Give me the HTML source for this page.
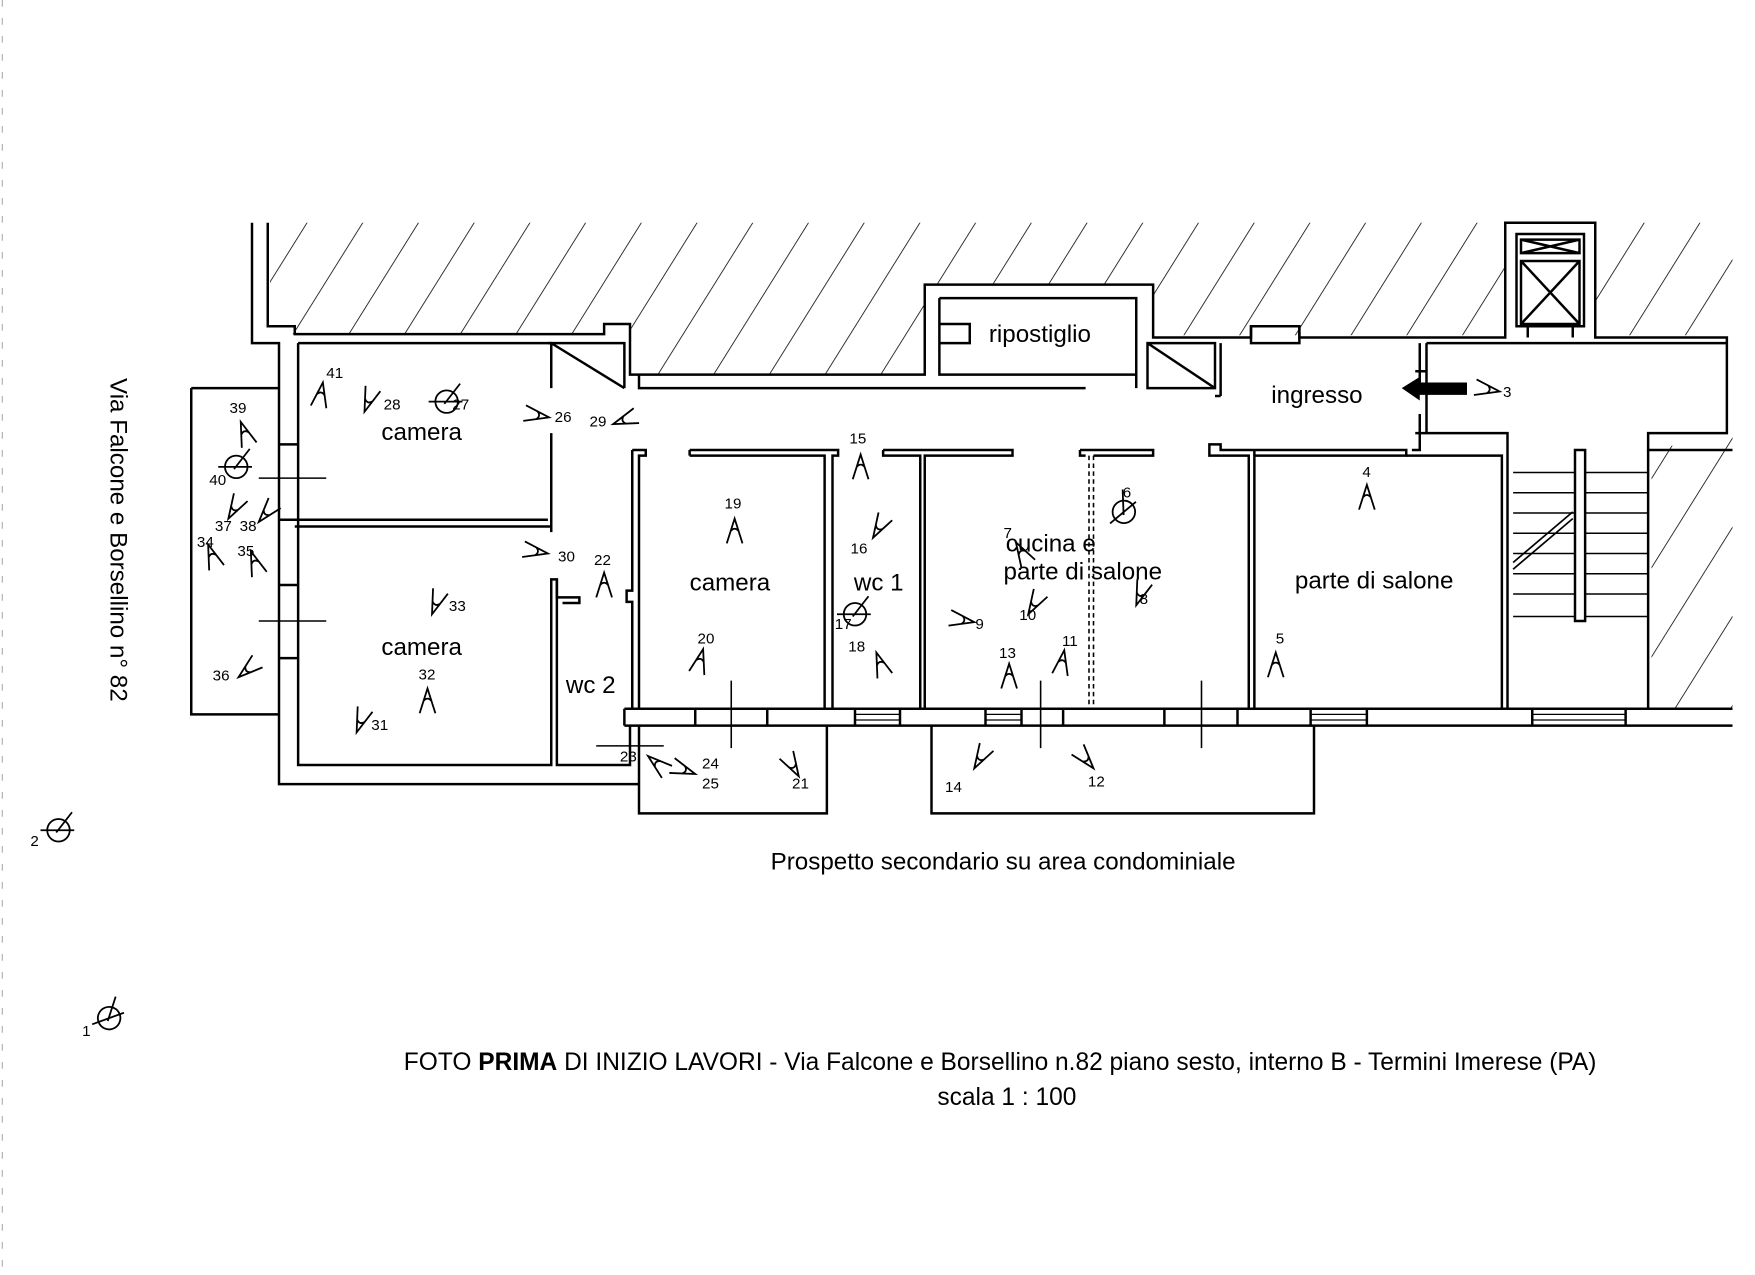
<!DOCTYPE html>
<html><head><meta charset="utf-8"><style>
html,body{margin:0;padding:0;background:#fff;}
svg{display:block;}
text{font-family:"Liberation Sans",Arial,sans-serif;fill:#000;}
</style></head><body>
<svg width="1755" height="1275" viewBox="0 0 1560 1133.33" xmlns="http://www.w3.org/2000/svg">
<defs>
<pattern id="h" width="42" height="42" patternUnits="userSpaceOnUse" patternTransform="rotate(32)">
<line x1="0" y1="0" x2="0" y2="42" stroke="#000" stroke-width="1.4"/>
</pattern>
<g id="cam" fill="none" stroke="#000" stroke-width="1.6"><path d="M-7,22 L0,0 L7,22 M-3.5,11 Q0,7 3.5,11"/></g>
<g id="circ" fill="none" stroke="#000" stroke-width="1.6"><circle cx="0" cy="0" r="10"/><path d="M-16,0 H14 M-2,2 L12,-16"/></g>
</defs>
<rect width="1560" height="1134" fill="#fff"/>
<line x1="2" y1="0" x2="2" y2="1133" stroke="#999" stroke-width="0.8" stroke-dasharray="6 10"/>
<polygon points="240,198 1540,198 1540,298 1418,298 1418,198 1338,198 1338,298 1025,298 1025,253 822,253 822,333 560,333 560,290 537,290 537,297 240,297" fill="url(#h)"/>
<polygon points="1468,400 1540,385 1540,630 1468,630" fill="url(#h)"/>
<g fill="none" stroke="#000" stroke-width="2.2">
<path d="M224,198 V305 H248 V697 H568"/>
<path d="M238,198 V290 H262 V297 H537 V288 H560 V333 H822 V253 H1025 V300 H1112 V290 H1155 V300 H1338 V198 H1418 V300 H1535 V385 H1465 V400 H1540"/>
<path d="M265,305 H490 V345 M490,385 V473 M265,305 V680 H490 V515 H495 V680 H560 V645"/>
<path d="M262,462 H487 M262,468 H490"/>
<path d="M495,515 V531 H515 V536 H500"/>
<path d="M487,305 H555 V345 M490,305 L555,345"/>
<path d="M568,333 V345 H965 M835,265 V333 H1010 V265 H835 M835,288 H862 V305 H835 M1010,333 V345 M1020,345 V305 H1080 V345 H1025 Z M1020,305 L1080,345 M1085,305 V352 M1085,352 H1080"/>
<path d="M1112,290 H1155 V305 H1112 Z"/>
<path d="M1348,208 H1408 V290 H1348 Z M1352,213 H1404 V225 H1352 Z M1352,213 L1404,225 M1404,213 L1352,225 M1352,232 H1404 V288 H1352 Z M1352,232 L1404,288 M1404,232 L1352,288 M1358,290 V300 M1398,290 V300"/>
<path d="M1268,305 H1535 M1268,305 V385 H1340 V630 M1262,305 V350 M1262,368 V400 H1255 M1465,400 V630"/>
<path d="M1258,330 H1268 M1258,385 H1268"/>
<path d="M562,400 H574 V405 H568 V630 M562,400 V525 H557 V535 H562 V630"/>
<path d="M613,400 H745 V405 H740 V630 M613,405 H733 V630 M613,400 V405"/>
<path d="M785,400 H900 V405 H822 V630 M785,400 V405 H818 V630"/>
<path d="M960,400 H1025 V405 H972 M960,400 V405 H965"/>
<path d="M1075,400 V395 H1085 V400 H1250 V405 H1115 V630 M1075,400 V405 H1110 V630"/>
<path d="M1115,405 V400 M1250,405 H1335 V630"/>
<path d="M968,405 V630 M972,405 V630" stroke-dasharray="4 3" stroke-width="1.4"/>
<path d="M555,630 H1540 M555,645 H1540 M555,630 V645"/>
<path d="M618,630 V645 M682,630 V645 M760,630 V645 M800,630 V645 M876,630 V645 M908,630 V645 M945,630 V645 M1035,630 V645 M1100,630 V645 M1165,630 V645 M1215,630 V645 M1362,630 V645 M1445,630 V645"/>
<path d="M760,635 H800 M760,640 H800 M876,635 H908 M876,640 H908 M1165,635 H1215 M1165,640 H1215 M1362,635 H1445 M1362,640 H1445" stroke-width="1.2"/>
<path d="M568,645 V723 H735 V645 M828,645 V723 H1168 V645"/>
<path d="M170,345 H248 M170,345 V635 H248"/>
<path d="M248,395 H265 M248,462 H265 M248,520 H265 M248,585 H265"/>
<path d="M230,425 H290 M230,552 H290 M650,605 V665 M925,605 V665 M1068,605 V665 M530,663 H590" stroke-width="1.4"/>
<path d="M1345,420 H1465 M1345,438 H1465 M1345,456 H1465 M1345,474 H1465 M1345,492 H1465 M1345,510 H1465 M1345,528 H1465 M1345,548 H1465" stroke-width="1.4"/>
<path d="M1400,400 H1409 V552 H1400 Z" fill="#fff"/>
<path d="M1345,500 L1398,455 M1345,506 L1398,461" stroke-width="1.5"/>
</g>
<polygon points="1246,345 1262,335 1262,340 1304,340 1304,351 1262,351 1262,356" fill="#000"/>
<use href="#cam" transform="translate(287,340) rotate(10)"/>
<use href="#cam" transform="translate(324,366) rotate(200)"/>
<use href="#circ" transform="translate(397,357)"/>
<use href="#cam" transform="translate(488,371) rotate(100)"/>
<use href="#cam" transform="translate(545,377) rotate(-110)"/>
<use href="#cam" transform="translate(765,404)"/>
<use href="#cam" transform="translate(653,461)"/>
<use href="#cam" transform="translate(776,478) rotate(-150)"/>
<use href="#circ" transform="translate(760,546)"/>
<use href="#cam" transform="translate(779,580) rotate(-20)"/>
<use href="#cam" transform="translate(625,577) rotate(15)"/>
<use href="#cam" transform="translate(537,509)"/>
<use href="#cam" transform="translate(487,492) rotate(100)"/>
<use href="#cam" transform="translate(384,546) rotate(200)"/>
<use href="#cam" transform="translate(380,612)"/>
<use href="#cam" transform="translate(317,651) rotate(200)"/>
<use href="#cam" transform="translate(212,602) rotate(-130)"/>
<use href="#cam" transform="translate(185,484) rotate(-20)"/>
<use href="#cam" transform="translate(223,490) rotate(-20)"/>
<use href="#cam" transform="translate(203,461) rotate(-150)"/>
<use href="#cam" transform="translate(230,464) rotate(-140)"/>
<use href="#cam" transform="translate(214,375) rotate(-20)"/>
<use href="#circ" transform="translate(210,415)"/>
<use href="#cam" transform="translate(576,672) rotate(-50)"/>
<use href="#cam" transform="translate(618,688) rotate(110)"/>
<use href="#cam" transform="translate(710,690) rotate(150)"/>
<use href="#cam" transform="translate(903,482) rotate(-30)"/>
<use href="#cam" transform="translate(914,546) rotate(-150)"/>
<use href="#circ" transform="translate(999,455) rotate(-40)"/>
<use href="#cam" transform="translate(1010,538) rotate(200)"/>
<use href="#cam" transform="translate(866,553) rotate(100)"/>
<use href="#cam" transform="translate(946,578) rotate(10)"/>
<use href="#cam" transform="translate(897,590)"/>
<use href="#cam" transform="translate(866,683) rotate(-150)"/>
<use href="#cam" transform="translate(972,683) rotate(140)"/>
<use href="#cam" transform="translate(1215,431)"/>
<use href="#cam" transform="translate(1134,580)"/>
<use href="#cam" transform="translate(1333,348) rotate(100)"/>
<use href="#circ" transform="translate(52,738)"/>
<use href="#circ" transform="translate(97,905) rotate(-20)"/>
<g font-size="13.5">
<text x="290" y="336">41</text><text x="341" y="364">28</text><text x="402" y="364">27</text>
<text x="493" y="375">26</text><text x="524" y="379">29</text><text x="755" y="394">15</text>
<text x="644" y="452">19</text><text x="756" y="492">16</text><text x="742" y="559">17</text>
<text x="754" y="579">18</text><text x="620" y="572">20</text><text x="528" y="502">22</text>
<text x="496" y="499">30</text><text x="399" y="543">33</text><text x="372" y="604">32</text>
<text x="330" y="649">31</text><text x="189" y="605">36</text><text x="175" y="486">34</text>
<text x="211" y="494">35</text><text x="191" y="472">37</text><text x="213" y="472">38</text>
<text x="204" y="367">39</text><text x="186" y="431">40</text><text x="551" y="677">23</text>
<text x="624" y="683">24</text><text x="624" y="701">25</text><text x="704" y="701">21</text>
<text x="892" y="478">7</text><text x="906" y="551">10</text><text x="998" y="442">6</text>
<text x="1013" y="537">8</text><text x="867" y="559">9</text><text x="944" y="574">11</text>
<text x="888" y="585">13</text><text x="840" y="704">14</text><text x="967" y="699">12</text>
<text x="1211" y="424">4</text><text x="1134" y="572">5</text><text x="1336" y="353">3</text>
<text x="27" y="752">2</text><text x="73" y="921">1</text>
</g>
<g font-size="21.5">
<text x="339" y="391">camera</text><text x="339" y="582">camera</text>
<text x="613" y="525">camera</text><text x="759" y="525">wc 1</text><text x="503" y="616">wc 2</text>
<text x="879" y="304">ripostiglio</text><text x="1130" y="358">ingresso</text>
<text x="894" y="490">cucina e</text><text x="892" y="515">parte di salone</text>
<text x="1151" y="523">parte di salone</text>
<text x="685" y="773" font-size="21.5">Prospetto secondario su area condominiale</text>
</g>
<text transform="translate(98,336) rotate(90)" font-size="21.5">Via Falcone e Borsellino n° 82</text>
<text x="889" y="951" font-size="21.8" text-anchor="middle">FOTO <tspan font-weight="bold">PRIMA</tspan> DI INIZIO LAVORI - Via Falcone e Borsellino n.82 piano sesto, interno B - Termini Imerese (PA)</text>
<text x="895" y="982" font-size="21.8" text-anchor="middle">scala 1 : 100</text>
</svg>
</body></html>
